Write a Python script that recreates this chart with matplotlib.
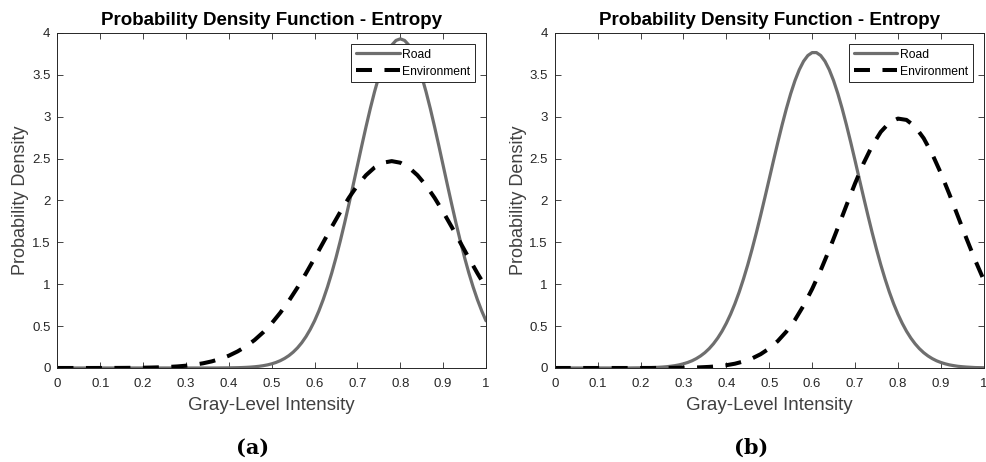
import matplotlib
matplotlib.use("Agg")
import matplotlib.pyplot as plt

plt.rcParams['font.family'] = ['Liberation Sans', 'DejaVu Sans']
plt.rcParams['lines.scale_dashes'] = False

# gray-level grids: road curves read every 0.01, environment every 0.02
x_road = [i / 100 for i in range(101)]
x_env = [i / 50 for i in range(51)]

# panel (a)
road_a = [0]*38 + [0.0008, 0.0011, 0.0017, 0.0024, 0.0035, 0.0051, 0.0073, 0.0103, 0.0144, 0.0199,
                   0.0273, 0.0370, 0.0498, 0.0663, 0.0874, 0.1142, 0.1476, 0.1892, 0.2399, 0.3013,
                   0.375, 0.4622, 0.5635, 0.6815, 0.8155, 0.9664, 1.134, 1.3185, 1.518, 1.730,
                   1.954, 2.184, 2.418, 2.652, 2.880, 3.098, 3.300, 3.481, 3.636, 3.762,
                   3.855, 3.911, 3.930, 3.911, 3.855, 3.762, 3.636, 3.481, 3.300, 3.098,
                   2.880, 2.652, 2.418, 2.184, 1.954, 1.730, 1.518, 1.3185, 1.134, 0.9664,
                   0.8155, 0.6815, 0.5635]
env_a = [0, 0, 0, 0, 0, 0.0003, 0.0005, 0.0008, 0.0014, 0.0022,
         0.0035, 0.0054, 0.0083, 0.0126, 0.0187, 0.0274, 0.0396, 0.0563, 0.0788, 0.1085,
         0.147, 0.197, 0.258, 0.334, 0.426, 0.534, 0.660, 0.802, 0.960, 1.131,
         1.312, 1.498, 1.684, 1.864, 2.032, 2.180, 2.302, 2.394, 2.451, 2.470,
         2.451, 2.394, 2.302, 2.180, 2.032, 1.864, 1.684, 1.498, 1.312, 1.131, 0.960]

# panel (b)
road_b = [0]*18 + [0.0008, 0.0013, 0.0018, 0.0027, 0.0038, 0.0054, 0.0077, 0.0107, 0.0149, 0.0204,
                   0.0277, 0.0373, 0.050, 0.066, 0.086, 0.112, 0.144, 0.183, 0.231, 0.289,
                   0.358, 0.439, 0.534, 0.643, 0.767, 0.907, 1.063, 1.233, 1.418, 1.615,
                   1.823, 2.038, 2.257, 2.478, 2.694, 2.902, 3.097, 3.275, 3.431, 3.561,
                   3.662, 3.731, 3.766, 3.766, 3.731, 3.662, 3.561, 3.431, 3.275, 3.097,
                   2.902, 2.694, 2.478, 2.257, 2.038, 1.823, 1.615, 1.418, 1.233, 1.063,
                   0.907, 0.767, 0.643, 0.534, 0.439, 0.358, 0.289, 0.231, 0.183, 0.144,
                   0.112, 0.086, 0.066, 0.050, 0.037, 0.028, 0.020, 0.015, 0.011, 0.008,
                   0.005, 0.004, 0.003]
env_b = [0]*10 + [0.0001, 0.0003, 0.0005, 0.0009, 0.0016, 0.0028, 0.0047, 0.0080, 0.0131, 0.0211,
                  0.033, 0.051, 0.078, 0.114, 0.165, 0.233, 0.322, 0.435, 0.575, 0.745,
                  0.943, 1.167, 1.413, 1.675, 1.942, 2.203, 2.445, 2.654, 2.819, 2.929,
                  2.978, 2.962, 2.882, 2.743, 2.554, 2.327, 2.074, 1.809, 1.543, 1.288,
                  1.051]

xticks = [0, 0.1, 0.2, 0.3, 0.4, 0.5, 0.6, 0.7, 0.8, 0.9, 1]
xticklabels = ['0', '0.1', '0.2', '0.3', '0.4', '0.5', '0.6', '0.7', '0.8', '0.9', '1']
yticks = [0, 0.5, 1, 1.5, 2, 2.5, 3, 3.5, 4]
yticklabels = ['0', '0.5', '1', '1.5', '2', '2.5', '3', '3.5', '4']

title = 'Probability Density Function - Entropy'
xlabel = 'Gray-Level Intensity'
ylabel = 'Probability Density'
names = ['Road', 'Environment']
captions = ['(a)', '(b)']

road_col = '#6e6e6e'
txt_col = '#262626'

fig = plt.figure(figsize=(9.86, 4.62), dpi=100)
ax_a = fig.add_axes([0.0583, 0.2035, 0.4346, 0.7251])
ax_b = fig.add_axes([0.5626, 0.2035, 0.4351, 0.7251])

for ax, road, env, cap, cx in [(ax_a, road_a, env_a, captions[0], 0.2566),
                               (ax_b, road_b, env_b, captions[1], 0.7617)]:
    ax.plot(x_road, road, color=road_col, lw=2.3, label=names[0],
            solid_capstyle='round', solid_joinstyle='round')
    ax.plot(x_env, env, color='black', lw=2.9, ls=(0, (11.5, 9)), label=names[1],
            dash_joinstyle='round')
    ax.set_xlim(0, 1)
    ax.set_ylim(0, 4)
    ax.set_xticks(xticks)
    ax.set_xticklabels(xticklabels)
    ax.set_yticks(yticks)
    ax.set_yticklabels(yticklabels)
    ax.tick_params(direction='in', top=True, right=True, length=4, width=0.6,
                   labelsize=9.5, colors=txt_col)
    ax.tick_params(axis='x', pad=7)
    ax.tick_params(axis='y', pad=5)
    for s in ax.spines.values():
        s.set_linewidth(0.7)
        s.set_color(txt_col)
    ax.set_title(title, fontsize=13.5, fontweight='bold', color='black', pad=6)
    ax.set_xlabel(xlabel, fontsize=13.5, color='#404040', labelpad=5)
    ax.set_ylabel(ylabel, fontsize=13, color='#404040', labelpad=2)
    leg = ax.legend(loc='upper right', fontsize=8.7, fancybox=False, framealpha=1,
                    edgecolor=txt_col, handlelength=3.6, handletextpad=0.2,
                    labelspacing=0.4, borderpad=0.4, borderaxespad=0.9)
    leg.get_frame().set_linewidth(0.7)
    fig.text(cx, 0.030, cap, ha='center', va='center', fontsize=15,
             fontweight='bold', family='DejaVu Serif')

fig.savefig('out.png', dpi=100)
